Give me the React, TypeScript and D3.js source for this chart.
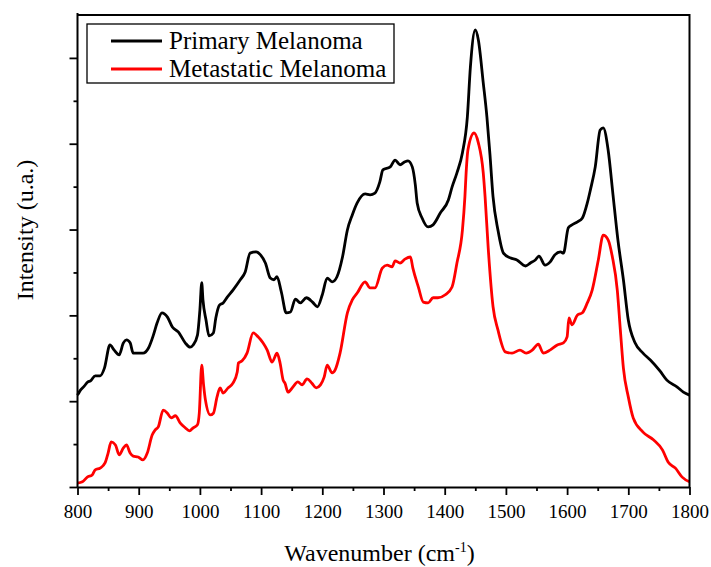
import React, { useEffect, useRef } from "react";
import * as d3 from "d3";

// [wavenumber (cm-1), intensity (a.u.)]
const primaryMelanoma: [number, number][] = [
  [800, 2.14], [804, 2.24], [811, 2.35], [817, 2.45], [821, 2.47], [829, 2.59],
  [837, 2.59], [844, 2.77], [853, 3.31], [860, 3.19], [868, 3.08], [875, 3.36],
  [880, 3.43], [886, 3.36], [891, 3.12], [899, 3.12], [907, 3.12], [916, 3.24],
  [924, 3.54], [930, 3.82], [938, 4.06], [947, 3.96], [955, 3.73], [965, 3.61],
  [976, 3.36], [984, 3.26], [989, 3.31], [996, 3.54], [1000, 4.13], [1003, 4.76],
  [1005, 4.36], [1010, 3.89], [1015, 3.52], [1022, 3.59], [1026, 3.94], [1032, 4.24],
  [1038, 4.29], [1045, 4.43], [1054, 4.59], [1066, 4.83], [1074, 5.01], [1082, 5.45],
  [1092, 5.48], [1099, 5.41], [1107, 5.22], [1115, 4.87], [1121, 4.83], [1126, 4.9],
  [1133, 4.55], [1141, 4.06], [1148, 4.08], [1156, 4.38], [1164, 4.29], [1174, 4.41],
  [1184, 4.31], [1192, 4.2], [1200, 4.48], [1208, 4.87], [1216, 4.78], [1224, 4.9],
  [1233, 5.36], [1241, 5.99], [1249, 6.34], [1257, 6.62], [1270, 6.83], [1278, 6.81],
  [1286, 6.85], [1294, 7.11], [1299, 7.39], [1311, 7.46], [1319, 7.62], [1327, 7.51],
  [1335, 7.58], [1340, 7.6], [1347, 7.46], [1352, 7.04], [1355, 6.62], [1363, 6.27],
  [1373, 6.06], [1381, 6.11], [1393, 6.39], [1406, 6.69], [1412, 6.99], [1420, 7.32],
  [1429, 7.79], [1437, 8.62], [1442, 9.79], [1450, 10.65], [1455, 10.42], [1463, 9.42],
  [1469, 8.62], [1474, 7.74], [1479, 6.76], [1487, 5.99], [1496, 5.45], [1507, 5.34],
  [1518, 5.29], [1532, 5.15], [1540, 5.22], [1548, 5.29], [1554, 5.38], [1564, 5.17],
  [1572, 5.24], [1580, 5.41], [1589, 5.48], [1594, 5.45], [1602, 6.04], [1608, 6.11],
  [1617, 6.18], [1625, 6.27], [1633, 6.62], [1638, 6.92], [1646, 7.46], [1654, 8.32],
  [1659, 8.37], [1667, 7.86], [1675, 6.81], [1683, 5.76], [1692, 4.83], [1700, 3.89],
  [1711, 3.36], [1724, 3.12], [1736, 2.96], [1752, 2.7], [1763, 2.49], [1780, 2.33],
  [1790, 2.21], [1800, 2.14],
];

const metastaticMelanoma: [number, number][] = [
  [800, 0.09], [808, 0.12], [816, 0.23], [824, 0.28], [829, 0.4], [837, 0.44],
  [845, 0.56], [850, 0.79], [855, 1.05], [862, 0.98], [868, 0.75], [875, 0.91],
  [880, 0.98], [886, 0.79], [891, 0.72], [899, 0.7], [907, 0.63], [914, 0.79],
  [922, 1.21], [927, 1.33], [932, 1.4], [940, 1.79], [947, 1.72], [953, 1.61],
  [960, 1.66], [968, 1.49], [976, 1.38], [983, 1.31], [989, 1.38], [996, 1.45],
  [999, 1.72], [1003, 2.84], [1006, 2.38], [1009, 2.03], [1017, 1.68], [1022, 1.72],
  [1028, 2.1], [1033, 2.31], [1038, 2.19], [1046, 2.31], [1054, 2.42], [1061, 2.68],
  [1063, 2.89], [1069, 2.94], [1077, 3.12], [1087, 3.59], [1095, 3.5], [1103, 3.36],
  [1110, 3.19], [1118, 2.91], [1126, 3.12], [1131, 2.89], [1136, 2.49], [1139, 2.42],
  [1144, 2.21], [1152, 2.33], [1160, 2.45], [1167, 2.38], [1175, 2.52], [1183, 2.42],
  [1190, 2.31], [1197, 2.38], [1203, 2.56], [1208, 2.84], [1216, 2.66], [1221, 2.73],
  [1229, 3.12], [1241, 4.06], [1249, 4.36], [1257, 4.52], [1270, 4.78], [1278, 4.64],
  [1286, 4.64], [1298, 5.1], [1306, 5.17], [1314, 5.13], [1319, 5.27], [1327, 5.22],
  [1335, 5.31], [1344, 5.36], [1348, 5.1], [1357, 4.66], [1365, 4.31], [1373, 4.29],
  [1381, 4.41], [1389, 4.41], [1401, 4.48], [1412, 4.66], [1420, 5.22], [1429, 5.99],
  [1433, 6.76], [1435, 7.32], [1438, 7.86], [1448, 8.25], [1455, 8.02], [1463, 7.32],
  [1466, 6.76], [1471, 5.59], [1479, 4.2], [1487, 3.66], [1499, 3.15], [1510, 3.12],
  [1523, 3.19], [1533, 3.12], [1543, 3.19], [1553, 3.33], [1561, 3.12], [1572, 3.19],
  [1584, 3.31], [1594, 3.36], [1600, 3.5], [1603, 3.94], [1608, 3.78], [1617, 4.01],
  [1625, 4.06], [1633, 4.29], [1641, 4.59], [1651, 5.29], [1659, 5.87], [1667, 5.76],
  [1674, 5.36], [1682, 4.59], [1687, 3.66], [1692, 2.77], [1700, 2.1], [1708, 1.61],
  [1724, 1.28], [1741, 1.1], [1756, 0.86], [1765, 0.58], [1777, 0.44], [1788, 0.23],
  [1800, 0.12],
];

const seriesNames = ["Primary Melanoma", "Metastatic Melanoma"];
const seriesColors = ["#000000", "#ff0000"];
const xMajorTicks = [800, 900, 1000, 1100, 1200, 1300, 1400, 1500, 1600, 1700, 1800];
const xMinorTicks = [850, 950, 1050, 1150, 1250, 1350, 1450, 1550, 1650, 1750];
const yMajorTicks = [0, 2, 4, 6, 8, 10];
const yMinorTicks = [1, 3, 5, 7, 9];

const App: React.FC = () => {
  const svgRef = useRef<SVGSVGElement | null>(null);
  const width = 711;
  const height = 567;
  const left = 77.5;
  const right = 689.5;
  const top = 15;
  const bottom = 487;

  useEffect(() => {
    const svg = d3.select(svgRef.current);
    svg.selectAll("*").remove();
    const font = '"Liberation Serif", "Times New Roman", Times, "DejaVu Serif", serif';

    const x = d3.scaleLinear().domain([800, 1800]).range([left, right]);
    const y = d3.scaleLinear().domain([0, 11]).range([bottom, top]);

    const line = d3
      .line<[number, number]>()
      .x(d => x(d[0]))
      .y(d => y(d[1]))
      .curve(d3.curveMonotoneX);

    [primaryMelanoma, metastaticMelanoma].forEach((s, i) => {
      svg
        .append("path")
        .datum(s)
        .attr("fill", "none")
        .attr("stroke", seriesColors[i])
        .attr("stroke-width", 2.8)
        .attr("stroke-linejoin", "round")
        .attr("d", line);
    });

    // frame top + right
    svg.append("path")
      .attr("d", `M${left},${top}H${right}V${bottom}`)
      .attr("fill", "none")
      .attr("stroke", "#000")
      .attr("stroke-width", 2);

    // x axis
    const gx = svg
      .append("g")
      .attr("transform", `translate(0,${bottom})`)
      .call(d3.axisBottom(x).tickValues(xMajorTicks).tickSize(8).tickSizeOuter(0).tickFormat(d3.format("d")));
    gx.attr("font-family", null).attr("font-size", null);
    gx.select(".domain").attr("stroke-width", 2);
    gx.selectAll(".tick line").attr("stroke-width", 1.8);
    gx.selectAll(".tick text")
      .attr("y", 31)
      .attr("dy", null)
      .style("font-family", font)
      .style("font-size", "19px")
      .attr("fill", "#000");
    svg
      .append("g")
      .attr("transform", `translate(0,${bottom})`)
      .call(d3.axisBottom(x).tickValues(xMinorTicks).tickSize(4).tickSizeOuter(0).tickFormat(() => ""))
      .call(g => g.select(".domain").remove())
      .selectAll(".tick line")
      .attr("stroke-width", 1.8);

    // y axis
    const gy = svg
      .append("g")
      .attr("transform", `translate(${left},0)`)
      .call(d3.axisLeft(y).tickValues(yMajorTicks).tickSize(8).tickSizeOuter(0).tickFormat(() => ""));
    gy.select(".domain").attr("stroke-width", 2).attr("d", `M0,${bottom}V${top - 2}`);
    gy.selectAll(".tick line").attr("stroke-width", 1.8);
    svg
      .append("g")
      .attr("transform", `translate(${left},0)`)
      .call(d3.axisLeft(y).tickValues(yMinorTicks).tickSize(4).tickSizeOuter(0).tickFormat(() => ""))
      .call(g => g.select(".domain").remove())
      .selectAll(".tick line")
      .attr("stroke-width", 1.8);

    // axis titles
    const xt = svg
      .append("text")
      .attr("x", (left + right) / 2 - 4)
      .attr("y", 561)
      .attr("text-anchor", "middle")
      .style("font-family", font)
      .style("font-size", "24px")
      .attr("fill", "#000");
    xt.append("tspan").text("Wavenumber (cm");
    xt.append("tspan").style("font-size", "14px").attr("dy", -9).text("-1");
    xt.append("tspan").attr("dy", 9).text(")");

    svg
      .append("text")
      .attr("transform", `translate(33,230) rotate(-90)`)
      .attr("text-anchor", "middle")
      .style("font-family", font)
      .style("font-size", "24px")
      .attr("fill", "#000")
      .text("Intensity (u.a.)");

    // legend
    const lg = svg.append("g");
    lg.append("rect")
      .attr("x", 87)
      .attr("y", 24)
      .attr("width", 307)
      .attr("height", 59)
      .attr("fill", "#fff")
      .attr("stroke", "#000")
      .attr("stroke-width", 1.3);
    seriesNames.forEach((name, i) => {
      const ly = 41 + i * 28;
      lg.append("line")
        .attr("x1", 111)
        .attr("x2", 162)
        .attr("y1", ly)
        .attr("y2", ly)
        .attr("stroke", seriesColors[i])
        .attr("stroke-width", 2.8);
      lg.append("text")
        .attr("x", 169)
        .attr("y", ly + 7.5)
        .style("font-family", font)
        .style("font-size", "25px")
        .attr("fill", "#000")
        .text(name);
    });
  }, []);

  return (
    <svg
      ref={svgRef}
      width={width}
      height={height}
      style={{ position: "absolute", left: 0, top: 0, background: "#fff" }}
    ></svg>
  );
};

export default App;
